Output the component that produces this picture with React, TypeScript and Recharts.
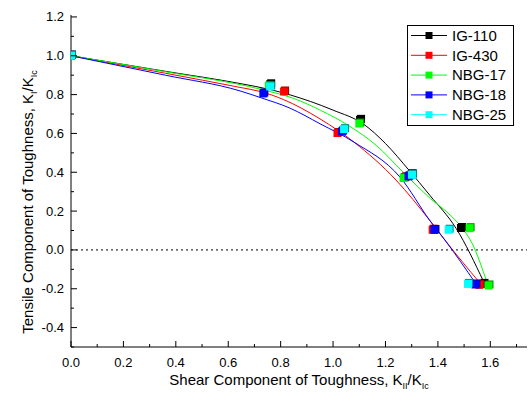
import React from 'react';
import { ComposedChart, Line, Scatter, XAxis, YAxis, ReferenceLine, Legend, Label } from 'recharts';

// ---- series meta ----
const seriesNames = ['IG-110', 'IG-430', 'NBG-17', 'NBG-18', 'NBG-25'];
const seriesColors = ['#000000', '#ff0000', '#00ff00', '#0000ff', '#00ffff'];
const shadeColors = ['#000000', '#a00000', '#008a00', '#00008a', '#008a8a'];
const hasCurve = [true, true, true, true, false];

// ---- measured points (K_II/K_Ic, K_I/K_Ic) ----
const ig110X = [0, 0.76, 1.103, 1.3, 1.488, 1.574];
const ig110Y = [1.0, 0.853, 0.67, 0.39, 0.113, -0.175];
const ig430X = [0, 0.813, 1.017, 1.275, 1.38, 1.558];
const ig430Y = [1.0, 0.816, 0.602, 0.374, 0.104, -0.18];
const nbg17X = [0, 0.755, 1.1, 1.269, 1.521, 1.593];
const nbg17Y = [1.0, 0.845, 0.651, 0.37, 0.112, -0.183];
const nbg18X = [0, 0.734, 1.034, 1.288, 1.387, 1.543];
const nbg18Y = [1.0, 0.806, 0.61, 0.379, 0.103, -0.178];
const nbg25X = [0, 0.76, 1.042, 1.301, 1.441, 1.515];
const nbg25Y = [1.0, 0.842, 0.622, 0.387, 0.104, -0.175];

// ---- fitted curves ----
const ig110FitX = [0, 0.36, 0.645, 0.76, 0.913, 1.0, 1.116, 1.2, 1.29, 1.37, 1.47, 1.575];
const ig110FitY = [1.0, 0.92, 0.857, 0.826, 0.765, 0.72, 0.648, 0.548, 0.41, 0.28, 0.11, -0.165];
const ig430FitX = [0, 0.36, 0.645, 0.722, 0.81, 0.95, 1.08, 1.24, 1.37, 1.43, 1.56];
const ig430FitY = [1.0, 0.91, 0.837, 0.816, 0.775, 0.675, 0.555, 0.36, 0.15, 0.045, -0.17];
const nbg17FitX = [0, 0.36, 0.722, 0.85, 0.951, 1.06, 1.167, 1.269, 1.371, 1.453, 1.5, 1.53, 1.587];
const nbg17FitY = [1.0, 0.918, 0.828, 0.78, 0.72, 0.64, 0.536, 0.398, 0.265, 0.172, 0.1, 0.035, -0.166];
const nbg18FitX = [0, 0.36, 0.645, 0.722, 0.836, 0.95, 1.08, 1.256, 1.37, 1.43, 1.543];
const nbg18FitY = [1.0, 0.9, 0.819, 0.785, 0.73, 0.65, 0.555, 0.374, 0.15, 0.045, -0.17];

// ---- axes ----
const xTicks = [0, 0.1, 0.2, 0.3, 0.4, 0.5, 0.6, 0.7, 0.8, 0.9, 1.0, 1.1, 1.2, 1.3, 1.4, 1.5, 1.6, 1.7];
const yTicks = [-0.5, -0.4, -0.3, -0.2, -0.1, 0, 0.1, 0.2, 0.3, 0.4, 0.5, 0.6, 0.7, 0.8, 0.9, 1.0, 1.1, 1.2];
const xDomain: [number, number] = [0, 1.74];
const yDomain: [number, number] = [-0.5, 1.21];

const zip = (xs: number[], ys: number[]) => xs.map((x, i) => ({ x, y: ys[i] }));
const pointSets = [zip(ig110X, ig110Y), zip(ig430X, ig430Y), zip(nbg17X, nbg17Y), zip(nbg18X, nbg18Y), zip(nbg25X, nbg25Y)];
const fitSets = [zip(ig110FitX, ig110FitY), zip(ig430FitX, ig430FitY), zip(nbg17FitX, nbg17FitY), zip(nbg18FitX, nbg18FitY), []];

const FONT = '"Liberation Sans", Arial, Helvetica, sans-serif';

const isMajor = (v: number) => Math.round(v * 10) % 2 === 0;

const XTickBottom = (props: any) => {
  const { x, y, payload } = props;
  const v = payload.value as number;
  const major = isMajor(v);
  return (
    <g>
      <line x1={x} y1={y} x2={x} y2={y - (major ? 6 : 3)} stroke="#000" strokeWidth={1} />
      {major && (
        <text x={x} y={y + 20} textAnchor="middle" fontSize={13} fontFamily={FONT} fill="#000">
          {v.toFixed(1)}
        </text>
      )}
    </g>
  );
};

const XTickTop = (props: any) => {
  const { x, y, payload } = props;
  const major = isMajor(payload.value);
  return <line x1={x} y1={y} x2={x} y2={y + (major ? 6 : 3)} stroke="#000" strokeWidth={1} />;
};

const YTickLeft = (props: any) => {
  const { x, y, payload } = props;
  const v = payload.value as number;
  const major = isMajor(v) && v > -0.45;
  return (
    <g>
      <line x1={x} y1={y} x2={x + (isMajor(v) ? 6 : 3)} y2={y} stroke="#000" strokeWidth={1} />
      {major && (
        <text x={x - 7} y={y + 4.5} textAnchor="end" fontSize={13} fontFamily={FONT} fill="#000">
          {v.toFixed(1)}
        </text>
      )}
    </g>
  );
};

const YTickRight = (props: any) => {
  const { x, y, payload } = props;
  const major = isMajor(payload.value);
  return <line x1={x} y1={y} x2={x - (major ? 6 : 3)} y2={y} stroke="#000" strokeWidth={1} />;
};

const XTitle = (props: any) => {
  const vb = props.viewBox || { x: 71, width: 456, y: 347 };
  const cx = vb.x + vb.width / 2;
  return (
    <text x={cx} y={385} textAnchor="middle" fontSize={15} fontFamily={FONT} fill="#000">
      Shear Component of Toughness, K
      <tspan fontSize={9} dy={4}>II</tspan>
      <tspan dy={-4}>/K</tspan>
      <tspan fontSize={9} dy={4}>Ic</tspan>
    </text>
  );
};

const YTitle = () => (
  <text x={33} y={202} transform="rotate(-90 33 202)" textAnchor="middle" fontSize={15} fontFamily={FONT} fill="#000">
    Tensile Component of Toughness, K
    <tspan fontSize={9} dy={4}>I</tspan>
    <tspan dy={-4}>/K</tspan>
    <tspan fontSize={9} dy={4}>Ic</tspan>
  </text>
);

const makeSquare = (i: number) => (props: any) => {
  const { cx, cy } = props;
  if (cx == null || cy == null) return <g />;
  return (
    <g>
      <rect x={cx - 3} y={cy - 5} width={8} height={8} fill={shadeColors[i]} />
      <rect x={cx - 4} y={cy - 4} width={8} height={8} fill={seriesColors[i]} />
    </g>
  );
};

const LegendBox = () => (
  <svg width={108} height={102} style={{ display: 'block' }}>
    <rect x={0.5} y={0.5} width={106} height={100} fill="#fff" stroke="#000" strokeWidth={1} />
    {seriesNames.map((n, i) => {
      const cy = 10.5 + i * 19.8;
      return (
        <g key={n}>
          <line x1={4} y1={cy} x2={40} y2={cy} stroke={seriesColors[i]} strokeWidth={1} />
          <rect x={18.5} y={cy - 3.5} width={7} height={7} fill={seriesColors[i]} />
          <text x={45} y={cy + 5.3} fontSize={15} fontFamily={FONT} fill="#000">
            {n}
          </text>
        </g>
      );
    })}
  </svg>
);

export default function App() {
  return (
    <div style={{ position: 'absolute', left: 0, top: 0, width: 530, height: 401, background: '#fff' }}>
      <ComposedChart width={530} height={401} margin={{ top: 15, right: 3, bottom: 0, left: 0 }}>
        <XAxis
          xAxisId="top"
          orientation="top"
          type="number"
          dataKey="x"
          domain={xDomain}
          allowDataOverflow
          ticks={xTicks}
          interval={0}
          height={0}
          tickSize={0}
          tickMargin={0}
          tickLine={false}
          tick={<XTickTop />}
          axisLine={{ stroke: '#000', strokeWidth: 1 }}
        />
        <YAxis
          yAxisId="right"
          orientation="right"
          type="number"
          domain={yDomain}
          allowDataOverflow
          ticks={yTicks}
          interval={0}
          width={0}
          tickSize={0}
          tickMargin={0}
          tickLine={false}
          tick={<YTickRight />}
          axisLine={{ stroke: '#000', strokeWidth: 1 }}
        />
        <XAxis
          type="number"
          dataKey="x"
          domain={xDomain}
          allowDataOverflow
          ticks={xTicks}
          interval={0}
          height={54}
          tickSize={0}
          tickMargin={0}
          tickLine={false}
          tick={<XTickBottom />}
          axisLine={{ stroke: '#000', strokeWidth: 1 }}
        >
          <Label content={<XTitle />} />
        </XAxis>
        <YAxis
          type="number"
          domain={yDomain}
          allowDataOverflow
          ticks={yTicks}
          interval={0}
          width={71}
          tickSize={0}
          tickMargin={0}
          tickLine={false}
          tick={<YTickLeft />}
          axisLine={{ stroke: '#000', strokeWidth: 1 }}
        >
          <Label content={<YTitle />} />
        </YAxis>
        <ReferenceLine y={0} stroke="#000" strokeWidth={1} strokeDasharray="2 3" />
        {fitSets.map((d, i) =>
          hasCurve[i] ? (
            <Line
              key={'fit' + i}
              data={d}
              dataKey="y"
              type="monotone"
              stroke={seriesColors[i]}
              strokeWidth={1}
              dot={false}
              activeDot={false}
              isAnimationActive={false}
              legendType="none"
            />
          ) : null
        )}
        {pointSets.map((d, i) => (
          <Scatter
            key={'pts' + i}
            data={d}
            dataKey="y"
            name={seriesNames[i]}
            fill={seriesColors[i]}
            shape={makeSquare(i)}
            isAnimationActive={false}
          />
        ))}
        <Legend
          layout="vertical"
          align="center"
          verticalAlign="middle"
          wrapperStyle={{ position: 'absolute', left: 407, top: 25, width: 108, height: 102 }}
          content={() => <LegendBox />}
        />
      </ComposedChart>
    </div>
  );
}
